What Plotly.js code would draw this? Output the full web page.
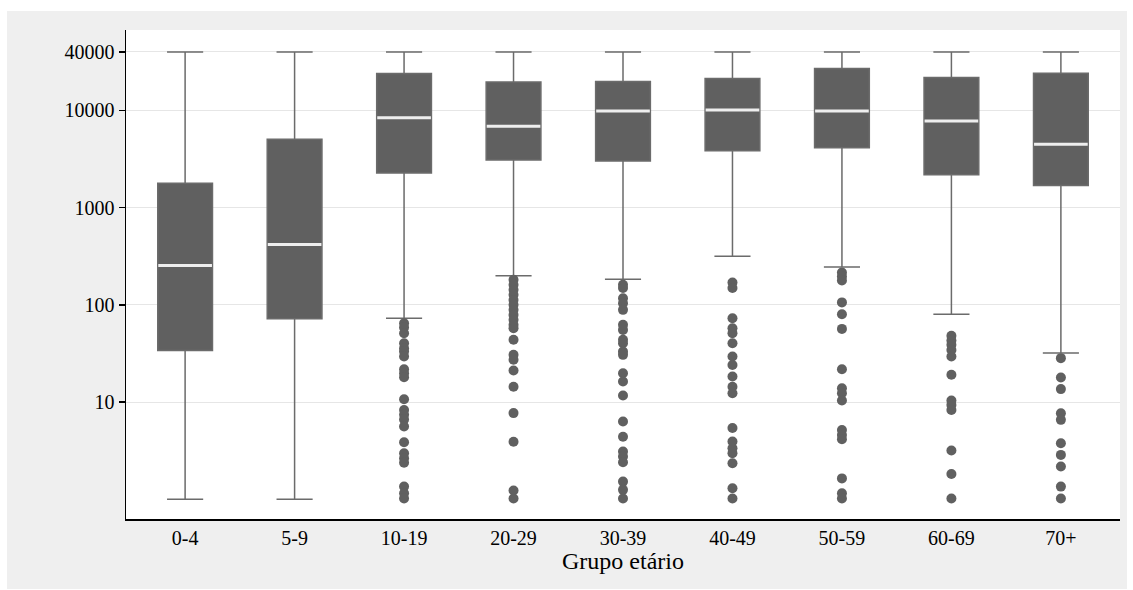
<!DOCTYPE html>
<html>
<head>
<meta charset="utf-8">
<script src="https://cdn.plot.ly/plotly-3.0.1.min.js"></script>
<style>
  html, body { margin: 0; padding: 0; background: #ffffff; }
  #chart { position: absolute; left: 7px; top: 11px; width: 1120px; height: 578px; }
</style>
</head>
<body>
<div id="chart"></div>
<script>
// Age groups
const categories = ["0-4", "5-9", "10-19", "20-29", "30-39", "40-49", "50-59", "60-69", "70+"];

// Box statistics (log scale)
const q1Values     = [34, 72, 2280, 3100, 3030, 3850, 4130, 2180, 1690];
const medianValues = [254, 418, 8400, 6900, 9850, 10100, 9900, 7800, 4500];
const q3Values     = [1780, 5070, 24000, 19600, 19900, 21300, 27000, 21900, 24200];
const lowerWhisker = [1, 1, 73, 199, 184, 317, 246, 80, 32];
const upperWhisker = [40000, 40000, 40000, 40000, 40000, 40000, 40000, 40000, 40000];

// Outside values per age group
const outliers_0_4   = [];
const outliers_5_9   = [];
const outliers_10_19 = [64.7, 58.5, 51.1, 40.3, 35.8, 33.1, 29.4, 21.8, 19.8, 18.0, 10.7, 8.3, 7.4, 6.6, 5.6, 3.86, 2.97, 2.64, 2.38, 1.35, 1.15, 1.02];
const outliers_20_29 = [181, 161, 143, 127, 112, 100, 88.9, 78.9, 70.2, 62.3, 57.5, 43.7, 30.6, 27.2, 21.1, 14.4, 7.7, 3.9, 1.23, 1.02];
const outliers_30_39 = [161, 149, 117, 104, 88.9, 62.3, 55.3, 43.7, 40.3, 33.1, 30.6, 19.8, 16.3, 11.7, 6.3, 4.4, 3.1, 2.75, 2.4, 1.52, 1.25, 1.02];
const outliers_40_49 = [170, 149, 72.9, 57.5, 51.1, 40.3, 29.4, 24.1, 18.3, 14.4, 12.3, 5.4, 3.93, 3.35, 2.97, 2.35, 1.3, 1.02];
const outliers_50_59 = [215, 196, 178, 106, 80.2, 56.6, 21.8, 13.9, 12.3, 10.4, 5.17, 4.59, 4.15, 1.64, 1.15, 1.02];
const outliers_60_69 = [48.0, 43.0, 38.8, 34.4, 29.4, 19.1, 10.4, 9.35, 8.3, 3.17, 1.82, 1.02];
const outliers_70p   = [28.3, 17.9, 13.6, 7.68, 6.56, 3.77, 2.86, 2.17, 1.35, 1.02];

// Tick labels
const yTickVals = [10, 100, 1000, 10000, 40000];
const yTickText = ["10", "100", "1000", "10000", "40000"];
const xTitle = "Grupo etário";

const outlierGroups = [outliers_0_4, outliers_5_9, outliers_10_19, outliers_20_29, outliers_30_39,
                       outliers_40_49, outliers_50_59, outliers_60_69, outliers_70p];
const outX = [], outY = [];
outlierGroups.forEach((arr, i) => arr.forEach(v => { outX.push(categories[i]); outY.push(v); }));

const boxColor = "#606060";
const whiskerColor = "#6b6b6b";

const boxTrace = {
  type: "box",
  x: categories,
  q1: q1Values,
  median: medianValues,
  q3: q3Values,
  lowerfence: lowerWhisker,
  upperfence: upperWhisker,
  boxpoints: false,
  width: 0.5,
  fillcolor: boxColor,
  line: { color: whiskerColor, width: 1.5 },
  whiskerwidth: 0.66,
  hoverinfo: "skip",
  showlegend: false
};

const medianTrace = {
  type: "box",
  x: categories,
  q1: medianValues,
  median: medianValues,
  q3: medianValues,
  lowerfence: medianValues,
  upperfence: medianValues,
  boxpoints: false,
  width: 0.49,
  fillcolor: "rgba(0,0,0,0)",
  line: { color: "#eeeeee", width: 3 },
  whiskerwidth: 0,
  hoverinfo: "skip",
  showlegend: false
};

const outlierTrace = {
  type: "scatter",
  mode: "markers",
  x: outX,
  y: outY,
  marker: { color: boxColor, size: 10, line: { width: 0 } },
  hoverinfo: "skip",
  showlegend: false
};

const font = { family: "Liberation Serif, Times New Roman, serif", color: "#000000" };

const layout = {
  width: 1120,
  height: 578,
  margin: { l: 119, r: 7, t: 19, b: 70 },
  paper_bgcolor: "#efefef",
  plot_bgcolor: "#ffffff",
  font: font,
  boxmode: "overlay",
  showlegend: false,
  hovermode: false,
  xaxis: {
    type: "category",
    range: [-0.54, 8.54],
    showline: true,
    linecolor: "#000000",
    linewidth: 1.5,
    ticks: "",
    showgrid: false,
    zeroline: false,
    tickfont: { family: font.family, size: 20, color: "#000" },
    title: { text: xTitle, font: { family: font.family, size: 24, color: "#000" }, standoff: 2 }
  },
  yaxis: {
    type: "log",
    range: [-0.203, 4.828],
    tickvals: yTickVals,
    ticktext: yTickText,
    showline: true,
    linecolor: "#000000",
    linewidth: 1.5,
    ticks: "outside",
    ticklen: 6,
    tickwidth: 1.5,
    tickcolor: "#000000",
    showgrid: true,
    gridcolor: "#e6e6e6",
    gridwidth: 1,
    zeroline: false,
    tickfont: { family: font.family, size: 20, color: "#000" }
  }
};

Plotly.newPlot("chart", [boxTrace, medianTrace, outlierTrace], layout, { displayModeBar: false, staticPlot: true });
</script>
</body>
</html>
